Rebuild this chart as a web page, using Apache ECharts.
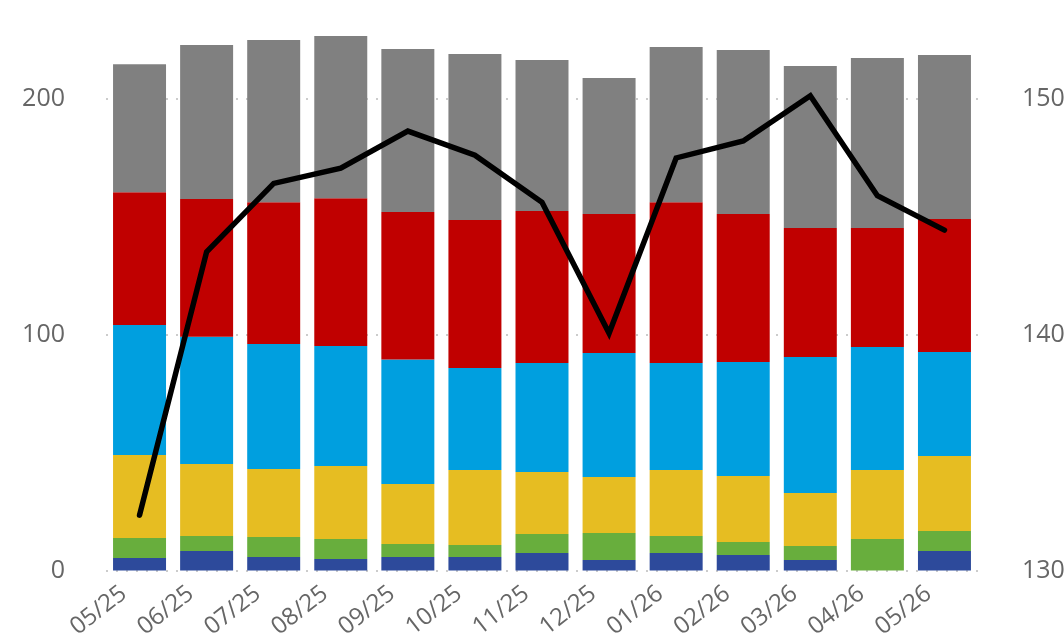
<!DOCTYPE html>
<html>
<head>
<meta charset="utf-8">
<script src="https://cdn.jsdelivr.net/npm/echarts@6/dist/echarts.min.js"></script>
<style>html,body{margin:0;padding:0;background:#fff}#c{width:1064px;height:634px}</style>
</head>
<body>
<div id="c"></div>
<script>
const categories = ['05/25','06/25','07/25','08/25','09/25','10/25','11/25','12/25','01/26','02/26','03/26','04/26','05/26'];
const navy   = [5.3, 8.3, 5.7, 4.9, 5.7, 5.7, 7.4, 4.5, 7.4, 6.6, 4.5, 0, 8.3];
const green  = [8.5, 6.3, 8.5, 8.5, 5.5, 5.1, 8.1, 11.4, 7.2, 5.5, 5.9, 13.4, 8.5];
const yellow = [35.2, 30.6, 28.9, 30.9, 25.5, 31.8, 26.3, 23.8, 28.0, 28.0, 22.5, 29.2, 31.8];
const cyan   = [55.1, 54.0, 53.0, 50.9, 52.8, 43.3, 46.2, 52.6, 45.4, 48.3, 57.7, 52.2, 44.1];
const red    = [56.4, 58.4, 60.1, 62.7, 62.6, 62.8, 64.5, 58.9, 68.2, 62.8, 54.7, 50.5, 56.4];
const gray   = [54.3, 65.3, 68.8, 68.8, 69.1, 70.4, 64.0, 57.7, 65.9, 69.6, 68.7, 72.1, 69.6];
const lineValues = [132.35, 143.52, 146.42, 147.07, 148.64, 147.62, 145.62, 140.06, 147.5, 148.22, 150.14, 145.9, 144.44];
const leftTicks = [0, 100, 200];
const rightTicks = [130, 140, 150];

const colors = ['#2D4A9B', '#68AE3D', '#E6BD22', '#009FDF', '#C00000', '#808080'];
const stacks = [navy, green, yellow, cyan, red, gray];
const font = '"Open Sans", "Noto Sans", sans-serif';

const chart = echarts.init(document.getElementById('c'), null, {renderer: 'canvas'});
const series = stacks.map((d, i) => ({
  type: 'bar', stack: 'a', data: d, barCategoryGap: '21%',
  itemStyle: {color: colors[i]}, yAxisIndex: 0, animation: false
}));
series.push({
  type: 'line', data: lineValues, yAxisIndex: 1, symbol: 'none',
  lineStyle: {color: '#000', width: 5.5, cap: 'round', join: 'miter'}, animation: false, z: 10
});
chart.setOption({
  animation: false,
  grid: {left: 106, right: 86, top: 28.3, bottom: 63.5, containLabel: false, outerBoundsMode: 'none'},
  xAxis: {
    type: 'category', data: categories,
    axisLine: {show: false}, axisTick: {show: false},
    axisLabel: {rotate: 38, color: '#666', fontSize: 24, fontFamily: font, margin: 8, padding: [0, 20, 0, 0]}
  },
  yAxis: [
    {type: 'value', min: 0, max: 230, interval: 100,
     axisLine: {show: false}, axisTick: {show: false},
     axisLabel: {color: '#666', fontSize: 25, fontFamily: font, margin: 41, showMaxLabel: false,
       formatter: v => leftTicks.includes(v) ? String(v) : ''},
     splitLine: {show: true, showMaxLine: false, lineStyle: {color: '#cccccc', width: 2, type: [2, 8]}}},
    {type: 'value', min: 130, max: 153, interval: 10, position: 'right',
     axisLine: {show: false}, axisTick: {show: false},
     axisLabel: {color: '#666', fontSize: 25, fontFamily: font, margin: 44, showMaxLabel: false,
       formatter: v => rightTicks.includes(v) ? String(v) : ''},
     splitLine: {show: false}}
  ],
  series: series
});
</script>
</body>
</html>
